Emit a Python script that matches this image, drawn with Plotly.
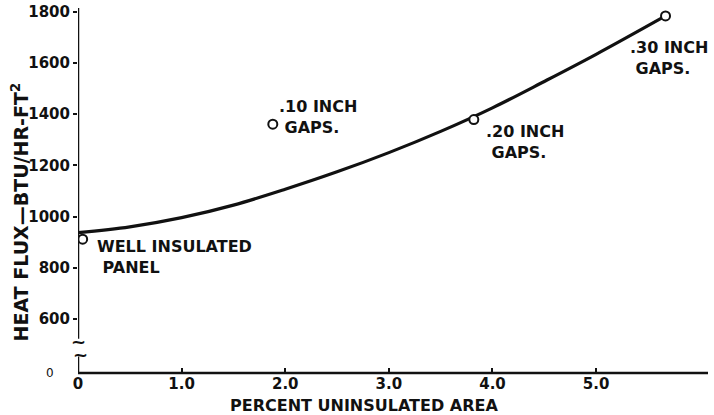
import plotly.graph_objects as go

# Data
curve_pct = [0.0, 0.5, 1.0, 1.5, 2.0, 2.5, 3.0, 3.5, 4.0, 4.5, 5.0, 5.67]
curve_flux = [937, 960, 996, 1045, 1107, 1175, 1250, 1333, 1425, 1528, 1634, 1784]

point_pct = [0.045, 1.88, 3.82, 5.67]
point_flux = [912, 1361, 1379, 1784]
point_labels = ["WELL INSULATED<br> PANEL", ".10 INCH<br> GAPS.", ".20 INCH<br> GAPS.", ".30 INCH<br> GAPS."]

y_tickvals = [600, 800, 1000, 1200, 1400, 1600, 1800]
y_ticktext = ["600", "800", "1000", "1200", "1400", "1600", "1800"]
x_tickvals = [0, 1, 2, 3, 4, 5]
x_ticktext = ["0", "1.0", "2.0", "3.0", "4.0", "5.0"]

x_title = "PERCENT UNINSULATED AREA"
y_title = "HEAT FLUX—BTU/HR-FT<sup>2</sup>"

FONT = "DejaVu Sans"
BLACK = "#111111"

fig = go.Figure()
fig.add_trace(go.Scatter(x=curve_pct, y=curve_flux, mode="lines",
                         line=dict(color=BLACK, width=3.2, shape="spline", smoothing=1.0),
                         hoverinfo="skip", showlegend=False))
fig.add_trace(go.Scatter(x=point_pct, y=point_flux, mode="markers",
                         marker=dict(symbol="circle", size=9, color="white",
                                     line=dict(color=BLACK, width=2)),
                         showlegend=False))

# label offsets (pixels) relative to each point: (xshift, yshift)
offsets = [(12, 4), (4, 29), (10, 0), (-38, -20)]
for xv, yv, lab, (dx, dy) in zip(point_pct, point_flux, point_labels, offsets):
    fig.add_annotation(x=xv, y=yv, xref="x", yref="y", text=lab, showarrow=False,
                       xanchor="left", yanchor="top", align="left",
                       xshift=dx, yshift=dy,
                       font=dict(family=FONT, size=16, color=BLACK, weight="bold"))

y_min, y_max = 389, 1815
x_min, x_max = 0.0, 6.08

# axis lines (broken y axis)
fig.add_shape(type="line", xref="x", yref="paper", x0=0, x1=0, y0=0.094, y1=1.0,
              line=dict(color=BLACK, width=2.5))
fig.add_shape(type="line", xref="x", yref="paper", x0=0, x1=0, y0=0.0, y1=0.045,
              line=dict(color=BLACK, width=2.5))
fig.add_shape(type="line", xref="paper", yref="paper", x0=0, x1=1, y0=0, y1=0,
              line=dict(color=BLACK, width=2.5))
# break marks
for py, dx in [(0.087, 0), (0.052, 2)]:
    fig.add_annotation(x=0, y=py, xref="x", yref="paper", text="~", showarrow=False,
                       xanchor="center", yanchor="middle", xshift=dx, height=10,
                       font=dict(family=FONT, size=18, color=BLACK, weight="bold"))
# broken-axis zero label
fig.add_annotation(x=0, y=y_min, xref="x", yref="y", text="0", showarrow=False,
                   xanchor="center", yanchor="middle", xshift=-28,
                   font=dict(family=FONT, size=12, color=BLACK))

# axis titles
fig.add_annotation(x=0.454, y=-0.088, xref="paper", yref="paper", text=x_title,
                   showarrow=False, xanchor="center", yanchor="middle",
                   font=dict(family=FONT, size=16, color=BLACK, weight="bold"))
fig.add_annotation(x=-0.092, y=0.44, xref="paper", yref="paper", text=y_title,
                   showarrow=False, xanchor="center", yanchor="middle", textangle=-90,
                   font=dict(family=FONT, size=19, color=BLACK, weight="bold"))

fig.update_layout(
    width=714, height=415,
    margin=dict(l=78, r=6, t=8, b=42),
    paper_bgcolor="white", plot_bgcolor="white",
    font=dict(family=FONT, color=BLACK),
    xaxis=dict(range=[x_min, x_max], tickvals=x_tickvals, ticktext=x_ticktext,
               ticks="inside", ticklen=5, tickwidth=1.5, tickcolor=BLACK,
               showgrid=False, zeroline=False, showline=False, automargin=False,
               tickfont=dict(family=FONT, size=15, color=BLACK, weight="bold")),
    yaxis=dict(range=[y_min, y_max], tickvals=y_tickvals, ticktext=y_ticktext,
               ticks="outside", ticklen=4, tickwidth=1.5, tickcolor=BLACK,
               showgrid=False, zeroline=False, showline=False, automargin=False,
               tickfont=dict(family=FONT, size=15, color=BLACK, weight="bold")),
)

fig.write_html("out.html", config={"displayModeBar": False},
               post_script="document.body.style.margin='0';")
